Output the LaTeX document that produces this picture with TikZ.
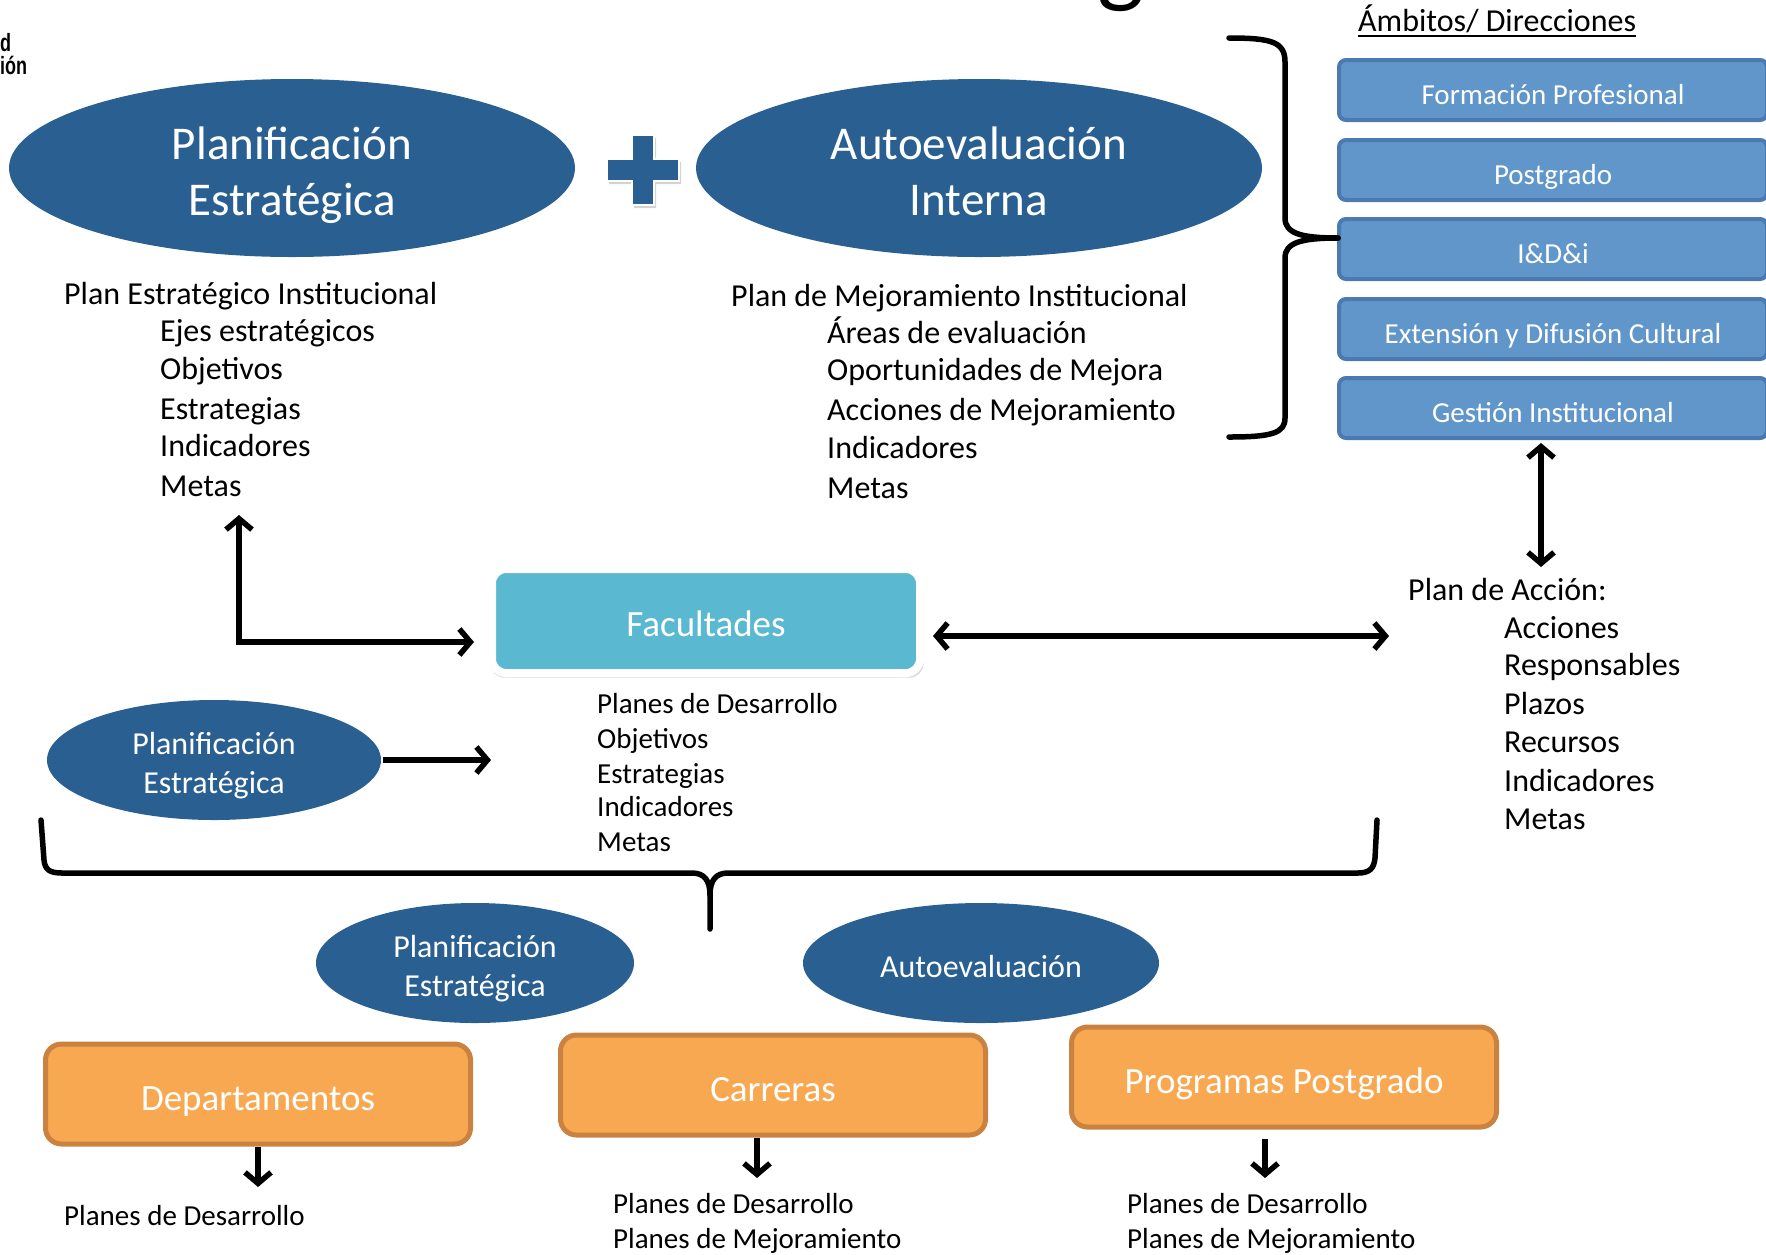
\documentclass[tikz,border=0pt]{standalone}
\usepackage{fontspec}
\setmainfont{Carlito}
\newfontfamily\logofont[FakeStretch=0.72]{Liberation Sans}
\usetikzlibrary{shapes.geometric,arrows.meta,shadows}

\definecolor{azuloscuro}{HTML}{2A5F92}
\definecolor{azulclaro}{HTML}{6096CA}
\definecolor{azulborde}{HTML}{4A7AB0}
\definecolor{celeste}{HTML}{5BB8D1}
\definecolor{naranja}{HTML}{F9A852}
\definecolor{naranjaborde}{HTML}{C9823F}

\newcommand{\fs}[2]{\fontsize{#1}{#2}\selectfont}
% puntales para centrar el texto como en el original
\newcommand{\alto}[1]{\rule{0pt}{#1pt}}
\newcommand{\bajo}[1]{\rule[-#1pt]{0pt}{#1pt}}

\tikzset{
  ovalo/.style={ellipse, fill=azuloscuro, text=white, inner sep=0pt, align=center},
  ovalogrande/.style={ovalo, minimum width=566pt, minimum height=178pt, font=\fs{47}{56}},
  ovalochico/.style={ovalo, minimum height=120pt, font=\fs{32}{39}},
  ambito/.style={rectangle, rounded corners=7pt, fill=azulclaro, draw=azulborde, line width=4pt,
    text=white, minimum width=428pt, minimum height=60pt, font=\fs{29}{35},
    execute at begin node=\alto{36}, execute at end node=\bajo{7}},
  unidad/.style={rectangle, rounded corners=16pt, fill=naranja, draw=naranjaborde, line width=5pt,
    text=white, minimum width=425pt, minimum height=100pt, font=\fs{37}{44},
    execute at begin node=\alto{41}, execute at end node=\bajo{8}},
  texto/.style={anchor=base west, inner sep=0pt, font=\fs{32}{39}},
  textochico/.style={anchor=base west, inner sep=0pt, font=\fs{29}{35}},
  flecha/.style={line width=5.5pt, -{Straight Barb[length=11pt,width=26pt]}},
  doble/.style={line width=5.5pt, {Straight Barb[length=11pt,width=26pt]}-{Straight Barb[length=11pt,width=26pt]}},
  llave/.style={line width=5.5pt, line join=round, line cap=round},
}

\begin{document}
\begin{tikzpicture}[x=1pt,y=-1pt]
\useasboundingbox (0,0) rectangle (1766,1254);

% restos de titulo y logo cortados
\node[anchor=base, inner sep=0pt, font=\fs{100}{110}] (tit) at (1121,-6) {g};
\node[anchor=base west, inner sep=0pt, font=\logofont\bfseries\fs{25}{25}] (logo1) at (0,51) {d};
\node[anchor=base west, inner sep=0pt, font=\logofont\bfseries\fs{25}{25}] (logo2) at (0,74) {ión};

% nivel institucional
\node[ovalogrande] (pe) at (292,168) {\alto{51}Planificación\\Estratégica\bajo{12}};
\node[ovalogrande] (ai) at (979,168) {\alto{51}Autoevaluación\\Interna\bajo{12}};
\filldraw[fill=azuloscuro, draw=white, line width=2pt, drop shadow={opacity=0.35, shadow xshift=2pt, shadow yshift=-3pt}]
  (607,159) -- (632,159) -- (632,135) -- (654,135) -- (654,159) -- (679,159) -- (679,181)
  -- (654,181) -- (654,205) -- (632,205) -- (632,181) -- (607,181) -- cycle;

\node[texto] (pei) at (64,304) {Plan Estratégico Institucional};
\node[texto] (pei1) at (160,341) {Ejes estratégicos};
\node[texto] (pei2) at (160,379) {Objetivos};
\node[texto] (pei3) at (160,419) {Estrategias};
\node[texto] (pei4) at (160,456) {Indicadores};
\node[texto] (pei5) at (160,496) {Metas};

\node[texto] (pmi) at (731,306) {Plan de Mejoramiento Institucional};
\node[texto] (pmi1) at (827,343) {Áreas de evaluación};
\node[texto] (pmi2) at (827,380) {Oportunidades de Mejora};
\node[texto] (pmi3) at (827,420) {Acciones de Mejoramiento};
\node[texto] (pmi4) at (827,458) {Indicadores};
\node[texto] (pmi5) at (827,498) {Metas};

% ambitos
\node[texto] (amb) at (1358,31) {Ámbitos/ Direcciones};
\draw[line width=1.6pt] ([yshift=-5pt]amb.base west) -- ([yshift=-5pt]amb.base east);
\node[ambito] (fp) at (1553,90) {Formación Profesional};
\node[ambito] (pg) at (1553,170) {Postgrado};
\node[ambito] (idi) at (1553,249) {I\&D\&i};
\node[ambito] (edc) at (1553,329) {Extensión y Difusión Cultural};
\node[ambito] (gi) at (1553,408) {Gestión Institucional};

\coordinate (llave-punta) at (1338,238);
\draw[llave] (1229,38) .. controls (1272,38) and (1285,42) .. (1285,62) -- (1285,218)
  .. controls (1285,233) and (1300,238) .. (llave-punta);
\draw[llave] (llave-punta) .. controls (1300,238) and (1285,243) .. (1285,258) -- (1285,418)
  .. controls (1285,433) and (1272,437) .. (1229,437);

% plan de accion
\node[texto] (pa) at (1408,600) {Plan de Acción:};
\node[texto] (pa1) at (1504,638) {Acciones};
\node[texto] (pa2) at (1504,675) {Responsables};
\node[texto] (pa3) at (1504,714) {Plazos};
\node[texto] (pa4) at (1504,752) {Recursos};
\node[texto] (pa5) at (1504,791) {Indicadores};
\node[texto] (pa6) at (1504,829) {Metas};
\coordinate (pa-arriba) at (1541,567);
\draw[doble] (1541,443) -- (pa-arriba);

% facultades
\node[rectangle, rounded corners=14pt, fill=celeste, draw=white, line width=8pt, text=white,
  minimum width=428pt, minimum height=104pt, font=\fs{37}{44},
  execute at begin node=\alto{40}, execute at end node=\bajo{9},
  drop shadow={opacity=0.3, shadow scale=1.012, shadow xshift=1pt, shadow yshift=-4pt}] (fac) at (706,621) {Facultades};
\coordinate (pei-punta) at (239,515);
\coordinate (fac-izq) at (474,642);
\draw[doble] (pei-punta) |- (fac-izq);
\coordinate (fac-der) at (933,636);
\coordinate (pa-izq) at (1389,636);
\draw[doble] (fac-der) -- (pa-izq);

\node[textochico] (pd) at (597,713) {Planes de Desarrollo};
\node[textochico] (pd1) at (597,748) {Objetivos};
\node[textochico] (pd2) at (597,783) {Estrategias};
\node[textochico] (pd3) at (597,816) {Indicadores};
\node[textochico] (pd4) at (597,851) {Metas};

\node[ovalochico, minimum width=334pt] (pef) at (214,760) {\alto{36}Planificación\\Estratégica\bajo{8}};
\coordinate (pef-der) at (491,760);
\draw[flecha] ([xshift=2pt]pef.east) -- (pef-der);

% llave inferior
\coordinate (llave-abajo) at (710,929);
\draw[llave] (41,820) -- (44,860) .. controls (45,870) and (50,873) .. (62,873) -- (692,873)
  .. controls (704,873) and (710,880) .. (710,895) -- (llave-abajo);
\draw[llave] (710,895) .. controls (710,880) and (716,873) .. (728,873) -- (1358,873)
  .. controls (1370,873) and (1374,868) .. (1375,858) -- (1377,820);

% nivel de unidades
\node[ovalochico, minimum width=318pt] (peu) at (475,963) {\alto{36}Planificación\\Estratégica\bajo{8}};
\node[ovalochico, minimum width=356pt] (aeu) at (981,963) {\alto{36}Autoevaluación\bajo{8}};

\node[unidad] (dep) at (258,1094) {Departamentos};
\node[unidad] (car) at (773,1085) {Carreras};
\node[unidad] (pp) at (1284,1077) {Programas Postgrado};

\coordinate (dep-abajo) at (258,1187);
\coordinate (car-abajo) at (757,1178);
\coordinate (pp-abajo) at (1265,1178);
\draw[flecha] (258,1147) -- (dep-abajo);
\draw[flecha] (757,1138) -- (car-abajo);
\draw[flecha] (1265,1139) -- (pp-abajo);

\node[textochico] (dep1) at (64,1225) {Planes de Desarrollo};
\node[textochico] (car1) at (613,1213) {Planes de Desarrollo};
\node[textochico] (car2) at (613,1248) {Planes de Mejoramiento};
\node[textochico] (pp1) at (1127,1213) {Planes de Desarrollo};
\node[textochico] (pp2) at (1127,1248) {Planes de Mejoramiento};
\end{tikzpicture}
\end{document}
